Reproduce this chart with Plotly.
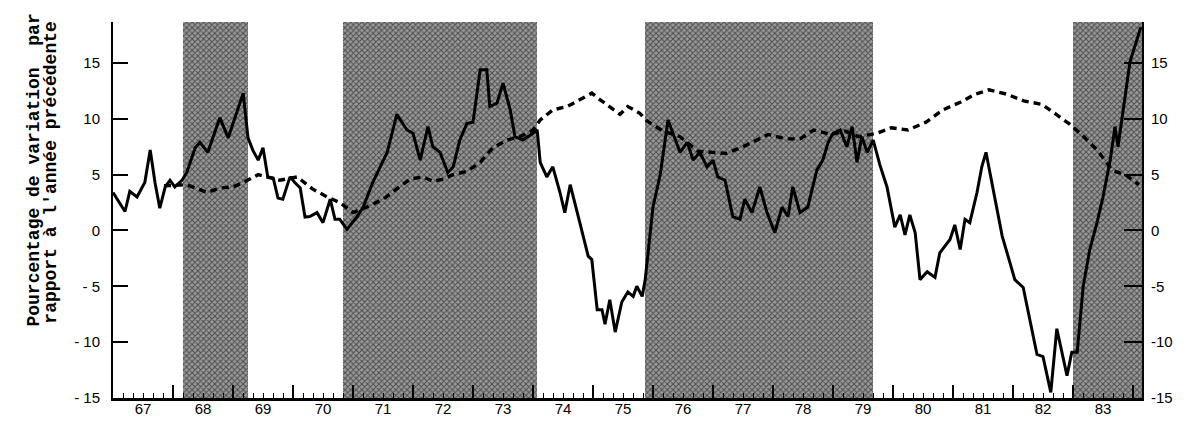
import plotly.graph_objects as go

# ---------------- data ----------------
solid_x = [1967.00, 1967.20, 1967.28, 1967.40, 1967.53, 1967.62, 1967.70, 1967.78, 1967.87, 1967.95,
           1968.03, 1968.15, 1968.23, 1968.37, 1968.45, 1968.58, 1968.78, 1968.92, 1969.17, 1969.25,
           1969.33, 1969.42, 1969.50, 1969.58, 1969.67, 1969.75, 1969.83, 1969.95, 1970.03, 1970.12,
           1970.20, 1970.28, 1970.40, 1970.50, 1970.62, 1970.70, 1970.78, 1970.90, 1971.07, 1971.17,
           1971.33, 1971.45, 1971.57, 1971.73, 1971.90, 1972.00, 1972.12, 1972.25, 1972.33, 1972.45,
           1972.58, 1972.67, 1972.78, 1972.90, 1973.00, 1973.12, 1973.23, 1973.28, 1973.40, 1973.50,
           1973.62, 1973.70, 1973.83, 1974.00, 1974.07, 1974.12, 1974.23, 1974.33, 1974.45, 1974.53,
           1974.62, 1974.78, 1974.92, 1974.98, 1975.07, 1975.15, 1975.20, 1975.28, 1975.37, 1975.48,
           1975.58, 1975.67, 1975.73, 1975.82, 1975.87, 1976.00, 1976.12, 1976.25, 1976.45, 1976.57,
           1976.67, 1976.78, 1976.90, 1977.00, 1977.08, 1977.20, 1977.33, 1977.45, 1977.53, 1977.65,
           1977.78, 1977.90, 1978.03, 1978.15, 1978.25, 1978.33, 1978.45, 1978.58, 1978.73, 1978.83,
           1978.92, 1979.00, 1979.12, 1979.23, 1979.32, 1979.40, 1979.48, 1979.57, 1979.67, 1979.78,
           1979.90, 1980.03, 1980.12, 1980.20, 1980.28, 1980.37, 1980.45, 1980.57, 1980.70, 1980.78,
           1980.95, 1981.03, 1981.12, 1981.20, 1981.28, 1981.40, 1981.48, 1981.55, 1981.70, 1981.82,
           1981.95, 1982.03, 1982.17, 1982.28, 1982.40, 1982.50, 1982.63, 1982.73, 1982.90, 1982.98,
           1983.07, 1983.17, 1983.28, 1983.40, 1983.50, 1983.62, 1983.70, 1983.75, 1983.95, 1984.13]
solid_y = [3.4, 1.7, 3.5, 3.0, 4.3, 7.2, 4.3, 2.0, 3.9, 4.5,
           3.9, 4.5, 5.2, 7.4, 7.9, 7.0, 10.1, 8.3, 12.3, 8.3,
           7.2, 6.3, 7.4, 4.8, 4.7, 2.9, 2.8, 4.8, 4.3, 3.8,
           1.2, 1.25, 1.6, 0.7, 2.8, 1.0, 1.0, 0.1, 1.25, 2.1,
           4.3, 5.7, 7.0, 10.4, 9.0, 8.7, 6.3, 9.3, 7.5, 7.0,
           5.2, 5.7, 8.1, 9.6, 9.7, 14.4, 14.4, 11.1, 11.4, 13.2,
           10.8, 8.4, 8.1, 8.7, 9.0, 6.1, 4.8, 5.7, 3.4, 1.6,
           4.1, 0.7, -2.3, -2.6, -7.1, -7.1, -8.4, -6.2, -9.1, -6.4,
           -5.5, -5.9, -5.0, -5.9, -4.4, 2.1, 5.0, 9.9, 7.0, 7.9,
           6.3, 7.0, 5.7, 6.3, 4.8, 4.5, 1.25, 1.0, 2.8, 1.6,
           3.9, 1.6, -0.2, 2.1, 1.25, 3.9, 1.6, 2.1, 5.4, 6.3,
           7.9, 8.7, 9.0, 7.5, 9.3, 6.1, 8.4, 7.0, 8.1, 5.9,
           3.9, 0.3, 1.4, -0.4, 1.4, -0.2, -4.4, -3.7, -4.2, -2.0,
           -0.8, 0.5, -1.7, 1.0, 0.7, 3.4, 5.7, 7.0, 2.8, -0.5,
           -2.9, -4.4, -5.1, -7.9, -11.1, -11.3, -14.5, -8.8, -13.0, -10.9,
           -10.9, -5.0, -1.7, 0.7, 3.0, 6.3, 9.3, 7.5, 15.1, 18.2]

dash_x = [1967.85, 1968.23, 1968.57, 1968.78, 1969.00, 1969.17, 1969.42, 1969.58, 1969.78, 1970.07,
          1970.33, 1970.57, 1970.78, 1971.00, 1971.23, 1971.50, 1971.73, 1971.95, 1972.17, 1972.33,
          1972.50, 1972.67, 1972.90, 1973.12, 1973.33, 1973.57, 1973.78, 1974.00, 1974.12, 1974.33,
          1974.57, 1974.78, 1974.98, 1975.12, 1975.28, 1975.45, 1975.58, 1975.78, 1975.90, 1976.17,
          1976.45, 1976.75, 1977.22, 1977.50, 1977.92, 1978.22, 1978.45, 1978.68, 1978.97, 1979.20,
          1979.43, 1979.73, 1979.97, 1980.25, 1980.55, 1980.83, 1981.13, 1981.37, 1981.60, 1981.90,
          1982.18, 1982.48, 1982.72, 1982.95, 1983.18, 1983.42, 1983.65, 1983.87, 1984.10]
dash_y = [4.0, 4.1, 3.4, 3.8, 3.9, 4.3, 5.0, 4.8, 4.5, 4.8,
          3.7, 3.0, 2.5, 1.6, 2.1, 2.8, 3.7, 4.6, 4.8, 4.4,
          4.6, 5.0, 5.3, 6.1, 7.4, 8.1, 8.4, 9.0, 9.9, 10.8,
          11.1, 11.7, 12.3, 11.7, 11.1, 10.4, 11.1, 10.5, 9.8, 8.9,
          8.4, 7.1, 6.9, 7.5, 8.6, 8.2, 8.2, 9.0, 8.6, 8.9,
          8.4, 8.7, 9.2, 9.0, 9.7, 10.8, 11.5, 12.2, 12.6, 12.2,
          11.6, 11.3, 10.4, 9.5, 8.4, 7.1, 5.4, 5.0, 4.1]

shade_start = [1968.17, 1970.83, 1975.87, 1983.00]
shade_end = [1969.25, 1974.07, 1979.67, 1984.15]

y_ticks = [-15, -10, -5, 0, 5, 10, 15]
y_ticktext = ["- 15", "- 10", "- 5", "0", "5", "10", "15"]
y2_ticktext = ["-15", "-10", "-5", "0", "5", "10", "15"]
year_labels = ["67", "68", "69", "70", "71", "72", "73", "74", "75", "76", "77", "78", "79",
               "80", "81", "82", "83"]
first_year = 1967

title_line1 = "Pourcentage de variation\u00a0\u00a0par"
title_line2 = "rapport à l'année précédente"

# ---------------- figure ----------------
Y_MIN, Y_MAX = -15, 18.67
X_MIN, X_MAX = 1967.0, 1984.15

fig = go.Figure()

fig.add_trace(go.Bar(
    x=[(s + e) / 2 for s, e in zip(shade_start, shade_end)],
    y=[Y_MAX - Y_MIN] * len(shade_start),
    base=[Y_MIN] * len(shade_start),
    width=[e - s for s, e in zip(shade_start, shade_end)],
    marker=dict(color="#777777", line=dict(width=0),
                pattern=dict(shape="x", fgcolor="#000000", bgcolor="#9a9a9a",
                             size=4, solidity=0.45)),
    hoverinfo="skip", showlegend=False,
))

fig.add_trace(go.Scatter(
    x=dash_x, y=dash_y, mode="lines",
    line=dict(color="black", width=3.4, dash="7px,5px"),
    showlegend=False,
))
fig.add_trace(go.Scatter(
    x=solid_x, y=solid_y, mode="lines",
    line=dict(color="black", width=3),
    showlegend=False,
))
# invisible helpers for the secondary axes
fig.add_trace(go.Scatter(x=[X_MIN], y=[0], xaxis="x2", yaxis="y2",
                         mode="markers", marker=dict(opacity=0), showlegend=False,
                         hoverinfo="skip"))

label_font = dict(family="Liberation Sans Narrow, Liberation Sans, Arial", size=15, color="black")

# the page body adds an 8px offset, so the figure is 8px smaller on each side
fig.update_layout(
    width=1179, height=413,
    margin=dict(l=105, r=45, t=14, b=23, autoexpand=False),
    paper_bgcolor="white", plot_bgcolor="white",
    bargap=0,
    xaxis=dict(
        range=[X_MIN, X_MAX], showgrid=False, zeroline=False, automargin=False,
        showline=True, linecolor="black", linewidth=3,
        tickmode="linear", tick0=first_year, dtick=1,
        ticks="inside", ticklen=13, tickwidth=1.5, tickcolor="black",
        showticklabels=False,
        minor=dict(ticks="inside", ticklen=5, tickwidth=1, tickcolor="black",
                   tickmode="linear", tick0=first_year, dtick=1/6),
    ),
    xaxis2=dict(
        overlaying="x", side="bottom", range=[X_MIN, X_MAX], automargin=False,
        showgrid=False, zeroline=False, showline=False,
        tickmode="array",
        tickvals=[first_year + i + 0.5 for i in range(len(year_labels))],
        ticktext=year_labels, ticks="", tickfont=label_font, ticklabelstandoff=0,
    ),
    yaxis=dict(
        range=[Y_MIN, Y_MAX], showgrid=False, zeroline=False, automargin=False,
        showline=True, linecolor="black", linewidth=2,
        tickmode="array", tickvals=y_ticks, ticktext=y_ticktext,
        ticks="inside", ticklen=15, tickwidth=2, tickcolor="black",
        tickfont=label_font, ticklabelstandoff=8,
    ),
    yaxis2=dict(
        overlaying="y", side="right", range=[Y_MIN, Y_MAX], automargin=False,
        showgrid=False, zeroline=False,
        showline=True, linecolor="black", linewidth=2,
        tickmode="array", tickvals=y_ticks, ticktext=y2_ticktext,
        ticks="inside", ticklen=18, tickwidth=2, tickcolor="black",
        tickfont=label_font, ticklabelstandoff=4,
    ),
    annotations=[
        dict(text="<b>" + title_line1 + "</b>", textangle=-90, xref="paper", yref="paper",
             x=-0.0777, y=0.605, showarrow=False, xanchor="center", yanchor="middle",
             font=dict(family="Liberation Mono, DejaVu Sans Mono", size=18, color="black")),
        dict(text="<b>" + title_line2 + "</b>", textangle=-90, xref="paper", yref="paper",
             x=-0.0600, y=0.600, showarrow=False, xanchor="center", yanchor="middle",
             font=dict(family="Liberation Mono, DejaVu Sans Mono", size=18, color="black")),
    ],
)

fig.write_html("out.html")
